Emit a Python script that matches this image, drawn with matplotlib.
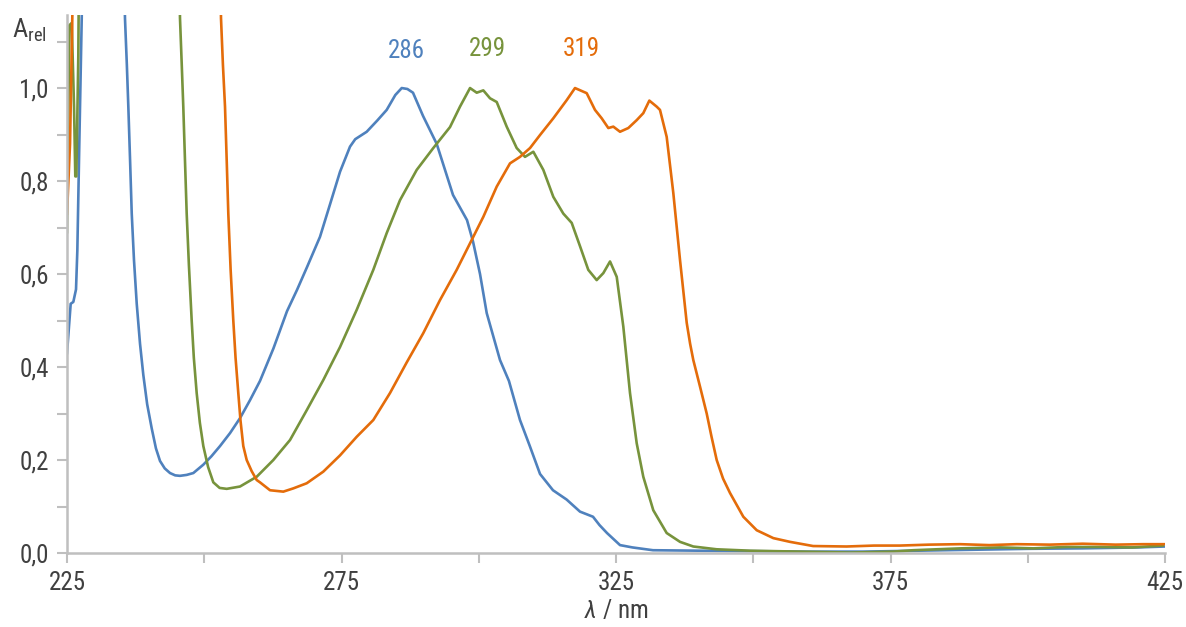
import matplotlib
matplotlib.use("Agg")
import matplotlib.pyplot as plt
from matplotlib import font_manager
from matplotlib.ticker import MultipleLocator, FuncFormatter

# narrow font if one is around, otherwise a plain sans
installed = {f.name for f in font_manager.fontManager.ttflist}
fams = [f for f in ['Roboto Condensed', 'Liberation Sans Narrow', 'Roboto', 'DejaVu Sans'] if f in installed]
plt.rcParams['font.family'] = fams
plt.rcParams['mathtext.fontset'] = 'custom'
plt.rcParams['mathtext.rm'] = fams[0]
plt.rcParams['mathtext.it'] = fams[0] + ':italic'

# ---- data (wavelength in nm, relative absorbance) ----
blue_x = [225.0, 225.67, 226.15, 226.64, 226.88, 227.24, 227.68, 228.2,
          234.8, 235.56, 235.9, 236.17, 236.5, 236.79, 237.2, 237.7, 238.3, 238.9,
          239.6, 240.43, 241.2, 241.94, 242.8, 243.76, 244.7,
          245.58, 246.8, 248.01, 249.83, 251.3, 252.87, 254.7, 256.51, 258.3, 260.15,
          262.6, 265.07, 266.9, 268.72, 271.08, 272.91, 274.73, 276.55, 277.5,
          279.59, 281.5, 283.23, 284.8, 285.97, 287.0, 288.02, 289.85, 292.34,
          295.31, 297.86, 298.95, 300.23, 301.45, 303.87, 305.5, 307.51, 309.3,
          311.16, 313.52, 316.0, 318.44, 320.81, 322.0, 323.36, 325.73, 328.0,
          331.74, 340, 350, 360, 370, 380, 390, 400, 410, 420, 425]
blue_y = [0.43, 0.536, 0.54, 0.567, 0.65, 0.88, 1.15, 1.6,
          1.6, 1.15, 1.05, 0.96, 0.84, 0.73, 0.63, 0.536, 0.45, 0.383,
          0.32, 0.268, 0.225, 0.198, 0.182, 0.172, 0.167,
          0.166, 0.168, 0.172, 0.19, 0.208, 0.23, 0.258, 0.29, 0.328, 0.37,
          0.44, 0.52, 0.566, 0.615, 0.68, 0.75, 0.82, 0.874, 0.89,
          0.906, 0.93, 0.953, 0.985, 1.0, 0.998, 0.99, 0.94, 0.88,
          0.77, 0.716, 0.67, 0.60, 0.516, 0.415, 0.37, 0.286, 0.23,
          0.17, 0.135, 0.115, 0.089, 0.078, 0.06, 0.043, 0.017, 0.012,
          0.006, 0.005, 0.004, 0.003, 0.003, 0.005, 0.007, 0.009, 0.01, 0.012, 0.014]

green_x = [225.0, 225.42, 225.86, 226.28, 226.51, 226.7, 227.06, 227.4,
           245.0, 245.58, 245.9, 246.18, 246.5, 246.8, 247.2, 247.71, 248.1, 248.62,
           249.2, 249.83, 250.7, 251.65, 252.8, 254.09, 256.51, 259.55, 262.58,
           265.62, 268.66, 271.68, 274.73, 277.77, 280.79, 283.23, 285.66, 288.7,
           291.72, 294.76, 296.58, 298.41, 299.63, 300.83, 302.05, 303.27, 305.09,
           306.91, 308.42, 309.94, 311.76, 313.58, 315.4, 316.93, 318.44, 319.95,
           321.48, 322.69, 323.91, 325.13, 326.33, 327.55, 328.77, 329.97, 331.79,
           334.23, 336.66, 339.08, 343.34, 349.41, 358.52, 367.6, 375.5, 379.1,
           387.7, 395.0, 401.0, 407.0, 413.2, 419.0, 424.6]
green_y = [0.69, 1.135, 1.14, 0.96, 0.81, 0.81, 1.07, 1.6,
           1.6, 1.15, 1.05, 0.96, 0.84, 0.73, 0.62, 0.50, 0.42, 0.344,
           0.28, 0.23, 0.185, 0.152, 0.14, 0.138, 0.143, 0.164, 0.2,
           0.243, 0.307, 0.372, 0.443, 0.523, 0.609, 0.688, 0.759, 0.824,
           0.871, 0.916, 0.96, 1.0, 0.99, 0.995, 0.978, 0.97, 0.917,
           0.871, 0.852, 0.863, 0.824, 0.766, 0.73, 0.71, 0.66, 0.609,
           0.587, 0.602, 0.627, 0.594, 0.487, 0.344, 0.236, 0.164, 0.092,
           0.043, 0.024, 0.014, 0.008, 0.005, 0.003, 0.001, 0.003, 0.006,
           0.01, 0.012, 0.01, 0.013, 0.013, 0.012, 0.016]

orange_x = [225.0, 225.55, 226.04, 226.5,
            252.5, 253.05, 253.4, 253.78, 254.1, 254.38, 254.8, 255.29, 255.7, 256.2,
            256.6, 257.11, 257.73, 258.64, 259.55, 260.15, 261.98, 264.4, 266.22,
            268.66, 271.68, 274.73, 277.77, 280.79, 283.83, 286.88, 289.9, 292.94,
            295.98, 299.0, 300.83, 303.27, 305.69, 307.51, 309.34, 311.16, 313.58,
            316.02, 317.53, 319.66, 321.17, 322.39, 323.6, 324.51, 325.73,
            327.24, 328.77, 329.97, 331.07, 332.41, 333.01, 334.23, 335.44,
            336.66, 337.88, 338.5, 339.08, 340.3, 341.52, 342.4, 343.34, 344.5,
            345.77, 348.19, 350.63, 353.66, 356.69, 360.9, 367.0, 372.0, 376.7,
            382.0, 387.7, 393.0, 398.0, 404.0, 410.0, 416.0, 421.0, 425.0]
orange_y = [0.73, 0.88, 1.2, 1.6,
            1.6, 1.15, 1.05, 0.96, 0.84, 0.73, 0.61, 0.50, 0.42, 0.344,
            0.285, 0.23, 0.2, 0.176, 0.157, 0.152, 0.135, 0.132, 0.139,
            0.15, 0.175, 0.21, 0.25, 0.286, 0.344, 0.41, 0.473, 0.544,
            0.609, 0.68, 0.723, 0.788, 0.838, 0.852, 0.871, 0.899, 0.935,
            0.974, 1.0, 0.989, 0.953, 0.935, 0.914, 0.917, 0.906,
            0.914, 0.931, 0.946, 0.973, 0.96, 0.953, 0.895, 0.774,
            0.63, 0.495, 0.45, 0.415, 0.358, 0.30, 0.25, 0.2, 0.16,
            0.129, 0.078, 0.049, 0.032, 0.024, 0.015, 0.014, 0.016, 0.016,
            0.018, 0.019, 0.017, 0.019, 0.018, 0.02, 0.018, 0.019, 0.019]

peak_labels = ["286", "299", "319"]
label_x = [286.9, 301.5, 318.6]
label_y = [1.08, 1.085, 1.085]

colors = ['#4F81BD', '#77933C', '#E46C0A']
axis_grey = '#BFBFBF'
text_grey = '#404040'

fig = plt.figure(figsize=(11.86, 6.27), dpi=100)
ax = fig.add_axes([0.0565, 0.118, 0.9258, 0.858])

for xs, ys, c in zip([blue_x, green_x, orange_x], [blue_y, green_y, orange_y], colors):
    ax.plot(xs, ys, color=c, lw=1.9, solid_joinstyle='round')

for lab, lx, ly, c in zip(peak_labels, label_x, label_y, colors):
    ax.text(lx, ly, lab, color=c, fontsize=18, ha='center', va='center')

ax.set_xlim(225, 425)
ax.set_ylim(0, 1.157)
ax.xaxis.set_major_locator(MultipleLocator(25))
ax.yaxis.set_major_locator(MultipleLocator(0.1))
ax.xaxis.set_major_formatter(FuncFormatter(lambda v, p: f"{v:.0f}" if round(v) % 50 == 25 else ""))
ax.yaxis.set_major_formatter(FuncFormatter(
    lambda v, p: f"{v:.1f}".replace('.', ',') if round(v * 10) % 2 == 0 else ""))

for s in ['top', 'right']:
    ax.spines[s].set_visible(False)
for s in ['left', 'bottom']:
    ax.spines[s].set_color(axis_grey)
    ax.spines[s].set_linewidth(1.8)
ax.tick_params(axis='both', colors=axis_grey, labelcolor=text_grey, labelsize=18,
               length=7, width=1.5, direction='out')
ax.tick_params(axis='x', pad=6)
ax.tick_params(axis='y', pad=6)

ax.set_xlabel(r'$\it{\lambda}$ / nm', fontsize=18, color=text_grey, labelpad=3)
fig.text(0.010, 0.952, r'$\mathregular{A_{rel}}$', fontsize=19, color=text_grey,
         ha='left', va='center')

fig.savefig('out.png', dpi=100)
